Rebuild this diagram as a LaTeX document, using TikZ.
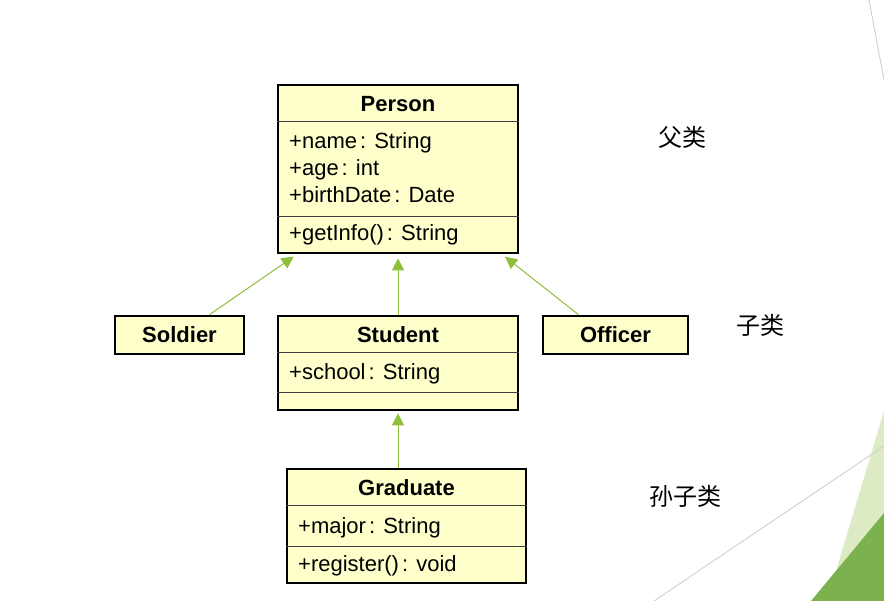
\documentclass[tikz,border=0pt]{standalone}
\usepackage{fontspec}
\setmainfont{Liberation Sans}
\newfontfamily\cjk{Noto Sans CJK SC}
\usetikzlibrary{arrows.meta}

\definecolor{clsfill}{HTML}{FFFFCC}
\definecolor{arrowgreen}{HTML}{8FBF3A}
\definecolor{palegreen}{HTML}{DDEBC4}
\definecolor{leafgreen}{HTML}{7BB24E}
\definecolor{thingray}{HTML}{CCCCCC}

\tikzset{
  cls/.style={draw=black, line width=2.7pt, fill=clsfill, inner sep=0pt},
  sep/.style={draw=black!75, line width=0.8pt},
  clsname/.style={font=\bfseries\fontsize{22}{26}\selectfont, inner sep=0pt},
  member/.style={anchor=base west, font=\fontsize{22}{27}\selectfont, inner sep=0pt},
  level/.style={font=\cjk\fontsize{24}{28}\selectfont, inner sep=0pt},
  inh/.style={draw=arrowgreen, line width=1pt, -{Triangle[length=12pt,width=12pt]}, shorten >=4pt},
}

\begin{document}
\begin{tikzpicture}[x=1pt, y=-1pt]
        \useasboundingbox[fill=white] (0,0) rectangle (884,601);

        % slide background
        \fill[palegreen] (884,411) -- (827,601) -- (884,601) -- cycle;
        \fill[leafgreen] (884,513) -- (811,601) -- (884,601) -- cycle;
        \draw[thingray, line width=0.8pt] (869,0) -- (884,80);
        \draw[thingray, line width=0.8pt] (654,601) -- (884,446);

        % class boxes
        \node[cls, minimum width=240, minimum height=168] at (398, 169)   (person)   {};
        \node[cls, minimum width=129, minimum height=38, clsname] at (179.5, 335) (soldier) {Soldier};
        \node[cls, minimum width=240, minimum height=94]  at (398, 363)   (student)  {};
        \node[cls, minimum width=145, minimum height=38, clsname] at (615.5, 335) (officer) {Officer};
        \node[cls, minimum width=239, minimum height=114] at (406.5, 526) (graduate) {};

        % compartments
        \draw[sep] ([yshift=-38]person.north west) -- ([yshift=-38]person.north east);
        \draw[sep] ([yshift=38]person.south west) -- ([yshift=38]person.south east);
        \draw[sep] ([yshift=-38]student.north west) -- ([yshift=-38]student.north east);
        \draw[sep] ([yshift=19]student.south west) -- ([yshift=19]student.south east);
        \draw[sep] ([yshift=-38]graduate.north west) -- ([yshift=-38]graduate.north east);
        \draw[sep] ([yshift=38]graduate.south west) -- ([yshift=38]graduate.south east);

        % names and members
        \node[clsname] at (398, 104)   (personname)   {Person};
        \node[member]  at (289, 149)   (pname)        {+name\hspace{3pt}: String};
        \node[member]  at (289, 176)   (page)         {+age\hspace{3pt}: int};
        \node[member]  at (289, 203)   (pbirth)       {+birthDate\hspace{3pt}: Date};
        \node[member]  at (289, 241)   (pinfo)        {+getInfo()\hspace{3pt}: String};

        \node[clsname] at (398, 335)   (studentname)  {Student};
        \node[member]  at (289, 380)   (sschool)      {+school\hspace{3pt}: String};

        \node[clsname] at (406.5, 488) (graduatename) {Graduate};
        \node[member]  at (298, 533)   (gmajor)       {+major\hspace{3pt}: String};
        \node[member]  at (298, 571)   (gregister)    {+register()\hspace{3pt}: void};

        % levels
        \node[level] at (682, 137) (fulei)    {父类};
        \node[level] at (760, 325) (zilei)    {子类};
        \node[level] at (685, 496) (sunzilei) {孙子类};

        % inheritance
        \draw[inh] ([xshift=30]soldier.north)   -- ([xshift=-101]person.south);
        \draw[inh] (student.north)              -- (person.south);
        \draw[inh] ([xshift=-37]officer.north)  -- ([xshift=104]person.south);
        \draw[inh] ([xshift=-8.5]graduate.north) -- ([yshift=2]student.south);

\end{tikzpicture}
\end{document}
